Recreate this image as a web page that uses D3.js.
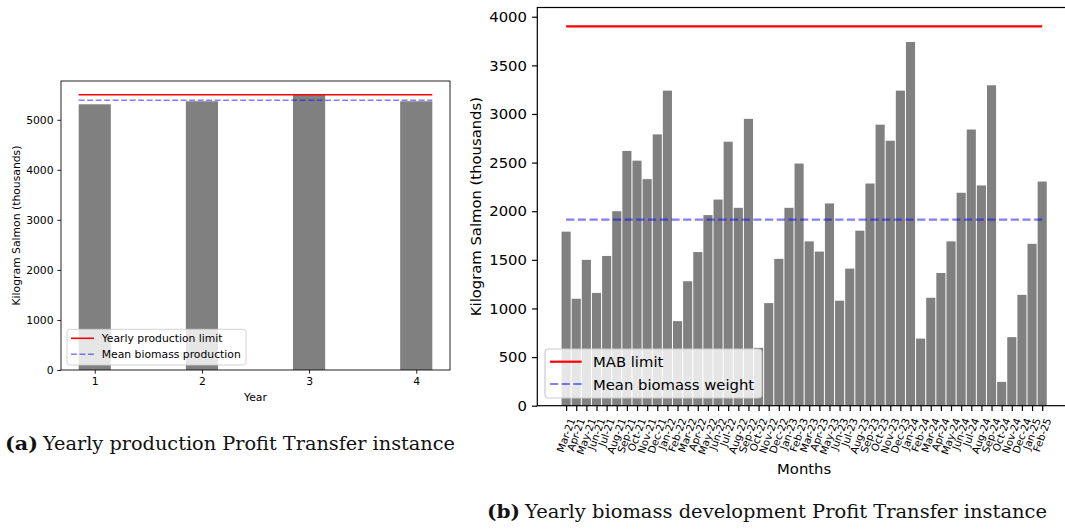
<!DOCTYPE html>
<html>
<head>
<meta charset="utf-8">
<script src="https://cdn.jsdelivr.net/npm/d3@7"></script>
<style>
  html, body { margin: 0; padding: 0; background: #fff; }
  svg { display: block; }
  text { font-family: "DejaVu Sans", sans-serif; fill: #000; }
  .cap { font-family: "DejaVu Serif", "Liberation Serif", serif; fill: #111; }
</style>
</head>
<body>
<svg id="chart" width="1065" height="530"></svg>
<script>
// ---------- data ----------
const years = [1, 2, 3, 4];
const yearlyProduction = [5310, 5370, 5500, 5370];
const yearlyLimit = 5500;
const yearlyMean = 5390;
const yearlyTicks = [0, 1000, 2000, 3000, 4000, 5000];

const months = ["Mar-21","Apr-21","May-21","Jun-21","Jul-21","Aug-21","Sep-21","Oct-21","Nov-21","Dec-21","Jan-22","Feb-22",
  "Mar-22","Apr-22","May-22","Jun-22","Jul-22","Aug-22","Sep-22","Oct-22","Nov-22","Dec-22","Jan-23","Feb-23",
  "Mar-23","Apr-23","May-23","Jun-23","Jul-23","Aug-23","Sep-23","Oct-23","Nov-23","Dec-23","Jan-24","Feb-24",
  "Mar-24","Apr-24","May-24","Jun-24","Jul-24","Aug-24","Sep-24","Oct-24","Nov-24","Dec-24","Jan-25","Feb-25"];
const biomass = [1790,1100,1500,1160,1540,2000,2620,2520,2330,2790,3240,870,
  1280,1580,1960,2120,2715,2035,2950,595,1055,1510,2035,2490,
  1690,1585,2080,1080,1410,1800,2285,2890,2725,3240,3740,690,
  1110,1365,1690,2190,2840,2265,3295,245,705,1140,1665,2305];
const mabLimit = 3900;
const biomassMean = 1913;
const monthlyTicks = [0, 500, 1000, 1500, 2000, 2500, 3000, 3500, 4000];

const svg = d3.select("#chart");

// ---------- left chart ----------
(function () {
  const L = 61, R = 450, T = 81, B = 370;
  const fs = 10.8, tick = 3.7, pad = 3.7;
  const bw = 0.3;
  const x = d3.scaleLinear().domain([0.685, 4.315]).range([L, R]);
  const y = d3.scaleLinear().domain([0, 5775]).range([B, T]);
  const g = svg.append("g");

  g.selectAll("rect.bar").data(years).join("rect")
    .attr("class", "bar")
    .attr("x", (d) => x(d - bw / 2))
    .attr("width", (d) => x(d + bw / 2) - x(d - bw / 2))
    .attr("y", (d, i) => y(yearlyProduction[i]))
    .attr("height", (d, i) => y(0) - y(yearlyProduction[i]))
    .attr("fill", "#808080");

  const x0 = x(years[0] - bw / 2), x1 = x(years[years.length - 1] + bw / 2);
  g.append("line").attr("x1", x0).attr("x2", x1)
    .attr("y1", y(yearlyLimit)).attr("y2", y(yearlyLimit))
    .attr("stroke", "#ff0000").attr("stroke-width", 1.6);
  g.append("line").attr("x1", x0).attr("x2", x1)
    .attr("y1", y(yearlyMean)).attr("y2", y(yearlyMean))
    .attr("stroke", "#0000ff").attr("stroke-opacity", 0.5)
    .attr("stroke-width", 1.6).attr("stroke-dasharray", "5.9,2.6");

  const yAxis = d3.axisLeft(y).tickValues(yearlyTicks).tickSize(tick).tickPadding(pad).tickFormat(d3.format("d"));
  const ya = g.append("g").attr("transform", `translate(${L},0)`).call(yAxis);
  const xAxis = d3.axisBottom(x).tickValues(years).tickSize(tick).tickPadding(pad).tickFormat(d3.format("d"));
  const xa = g.append("g").attr("transform", `translate(0,${B})`).call(xAxis);
  [ya, xa].forEach((a) => {
    a.select(".domain").remove();
    a.selectAll("line").attr("stroke", "#000").attr("stroke-width", 0.86);
    a.selectAll("text").attr("font-size", fs).attr("font-family", "DejaVu Sans").attr("fill", "#000");
  });

  g.append("rect").attr("x", L).attr("y", T).attr("width", R - L).attr("height", B - T)
    .attr("fill", "none").attr("stroke", "#000").attr("stroke-width", 0.86);

  g.append("text").attr("x", (L + R) / 2).attr("y", 397).attr("text-anchor", "middle")
    .attr("dominant-baseline", "central").attr("font-size", fs).text("Year");
  g.append("text").attr("transform", `translate(16,${(T + B) / 2}) rotate(-90)`)
    .attr("text-anchor", "middle").attr("dominant-baseline", "central")
    .attr("font-size", fs).text("Kilogram Salmon (thousands)");

  // legend
  const lg = g.append("g");
  lg.append("rect").attr("x", 67).attr("y", 329.3).attr("width", 179).attr("height", 35.7)
    .attr("rx", 2.5).attr("fill", "#fff").attr("fill-opacity", 0.8)
    .attr("stroke", "#cccccc").attr("stroke-width", 0.86);
  const items = [
    { label: "Yearly production limit", color: "#ff0000", op: 1, dash: null, yy: 338.3 },
    { label: "Mean biomass production", color: "#0000ff", op: 0.5, dash: "5.9,2.6", yy: 354.3 }
  ];
  items.forEach((it) => {
    lg.append("line").attr("x1", 71).attr("x2", 94).attr("y1", it.yy).attr("y2", it.yy)
      .attr("stroke", it.color).attr("stroke-opacity", it.op).attr("stroke-width", 1.6)
      .attr("stroke-dasharray", it.dash);
    lg.append("text").attr("x", 101.7).attr("y", it.yy).attr("dominant-baseline", "central")
      .attr("font-size", fs).text(it.label);
  });
})();

// ---------- right chart ----------
(function () {
  const L = 537.3, R = 1071, T = 7.5, B = 405.7;
  const fs = 14.8, tick = 5.2, pad = 5.2;
  const bw = 0.9;
  const idx = months.map((m, i) => i);
  const x = d3.scaleLinear().domain([-2.845, 49.845]).range([L, R]);
  const y = d3.scaleLinear().domain([0, 4095]).range([B, T]);
  const g = svg.append("g");

  g.selectAll("rect.bar").data(idx).join("rect")
    .attr("class", "bar")
    .attr("x", (d) => x(d - bw / 2))
    .attr("width", (d) => x(d + bw / 2) - x(d - bw / 2))
    .attr("y", (d) => y(biomass[d]))
    .attr("height", (d) => y(0) - y(biomass[d]))
    .attr("fill", "#808080");

  const x0 = x(0), x1 = x(months.length - 1);
  g.append("line").attr("x1", x0).attr("x2", x1)
    .attr("y1", y(mabLimit)).attr("y2", y(mabLimit))
    .attr("stroke", "#ff0000").attr("stroke-width", 2.2);
  g.append("line").attr("x1", x0).attr("x2", x1)
    .attr("y1", y(biomassMean)).attr("y2", y(biomassMean))
    .attr("stroke", "#0000ff").attr("stroke-opacity", 0.5)
    .attr("stroke-width", 2.2).attr("stroke-dasharray", "8.2,3.5");

  const yAxis = d3.axisLeft(y).tickValues(monthlyTicks).tickSize(tick).tickPadding(pad).tickFormat(d3.format("d"));
  const ya = g.append("g").attr("transform", `translate(${L},0)`).call(yAxis);
  ya.select(".domain").remove();
  ya.selectAll("line").attr("stroke", "#000").attr("stroke-width", 1.2);
  ya.selectAll("text").attr("font-size", fs).attr("font-family", "DejaVu Sans").attr("fill", "#000");

  const xAxis = d3.axisBottom(x).tickValues(idx).tickSize(tick).tickFormat((d) => months[d]);
  const xa = g.append("g").attr("transform", `translate(0,${B})`).call(xAxis);
  xa.select(".domain").remove();
  xa.selectAll("line").attr("stroke", "#000").attr("stroke-width", 1.2);
  const mfs = 10.3, rot = 70, rad = rot * Math.PI / 180;
  const topY = tick + pad + 0.5;
  xa.selectAll("text")
    .attr("font-size", mfs).attr("font-family", "DejaVu Sans").attr("fill", "#000")
    .attr("text-anchor", "end").attr("dominant-baseline", "central")
    .attr("dy", null).attr("y", null)
    .each(function () {
      const len = this.getComputedTextLength();
      const h = mfs;
      const ex = len * Math.cos(rad) / 2 - 1;
      const ey = topY + (h / 2) * Math.cos(rad);
      d3.select(this).attr("transform", `translate(${ex},${ey}) rotate(${-rot})`);
    });

  g.append("rect").attr("x", L).attr("y", T).attr("width", R - L).attr("height", B - T)
    .attr("fill", "none").attr("stroke", "#000").attr("stroke-width", 1.2);

  g.append("text").attr("x", (L + R) / 2).attr("y", 468).attr("text-anchor", "middle")
    .attr("dominant-baseline", "central").attr("font-size", fs).text("Months");
  g.append("text").attr("transform", `translate(475,${(T + B) / 2}) rotate(-90)`)
    .attr("text-anchor", "middle").attr("dominant-baseline", "central")
    .attr("font-size", fs).text("Kilogram Salmon (thousands)");

  // legend
  const lg = g.append("g");
  lg.append("rect").attr("x", 545).attr("y", 349).attr("width", 216.7).attr("height", 49)
    .attr("rx", 3.5).attr("fill", "#fff").attr("fill-opacity", 0.8)
    .attr("stroke", "#cccccc").attr("stroke-width", 1.2);
  const items = [
    { label: "MAB limit", color: "#ff0000", op: 1, dash: null, yy: 361.7 },
    { label: "Mean biomass weight", color: "#0000ff", op: 0.5, dash: "8.2,3.5", yy: 384 }
  ];
  items.forEach((it) => {
    lg.append("line").attr("x1", 550).attr("x2", 581.7).attr("y1", it.yy).attr("y2", it.yy)
      .attr("stroke", it.color).attr("stroke-opacity", it.op).attr("stroke-width", 2.2)
      .attr("stroke-dasharray", it.dash);
    lg.append("text").attr("x", 593).attr("y", it.yy).attr("dominant-baseline", "central")
      .attr("font-size", fs).text(it.label);
  });
})();

// ---------- captions ----------
function caption(tag, rest, x0, xRest, xEnd, base) {
  svg.append("text").attr("class", "cap").attr("x", x0).attr("y", base)
    .attr("font-size", 18.5).attr("font-weight", "bold")
    .attr("textLength", xRest - 5 - x0).attr("lengthAdjust", "spacingAndGlyphs").text(tag);
  svg.append("text").attr("class", "cap").attr("x", xRest).attr("y", base)
    .attr("font-size", 18.5)
    .attr("textLength", xEnd - xRest).attr("lengthAdjust", "spacingAndGlyphs").text(rest);
}
caption("(a)", "Yearly production Profit Transfer instance", 5, 43, 455, 450);
caption("(b)", "Yearly biomass development Profit Transfer instance", 487, 525, 1047, 518);
</script>
</body>
</html>
